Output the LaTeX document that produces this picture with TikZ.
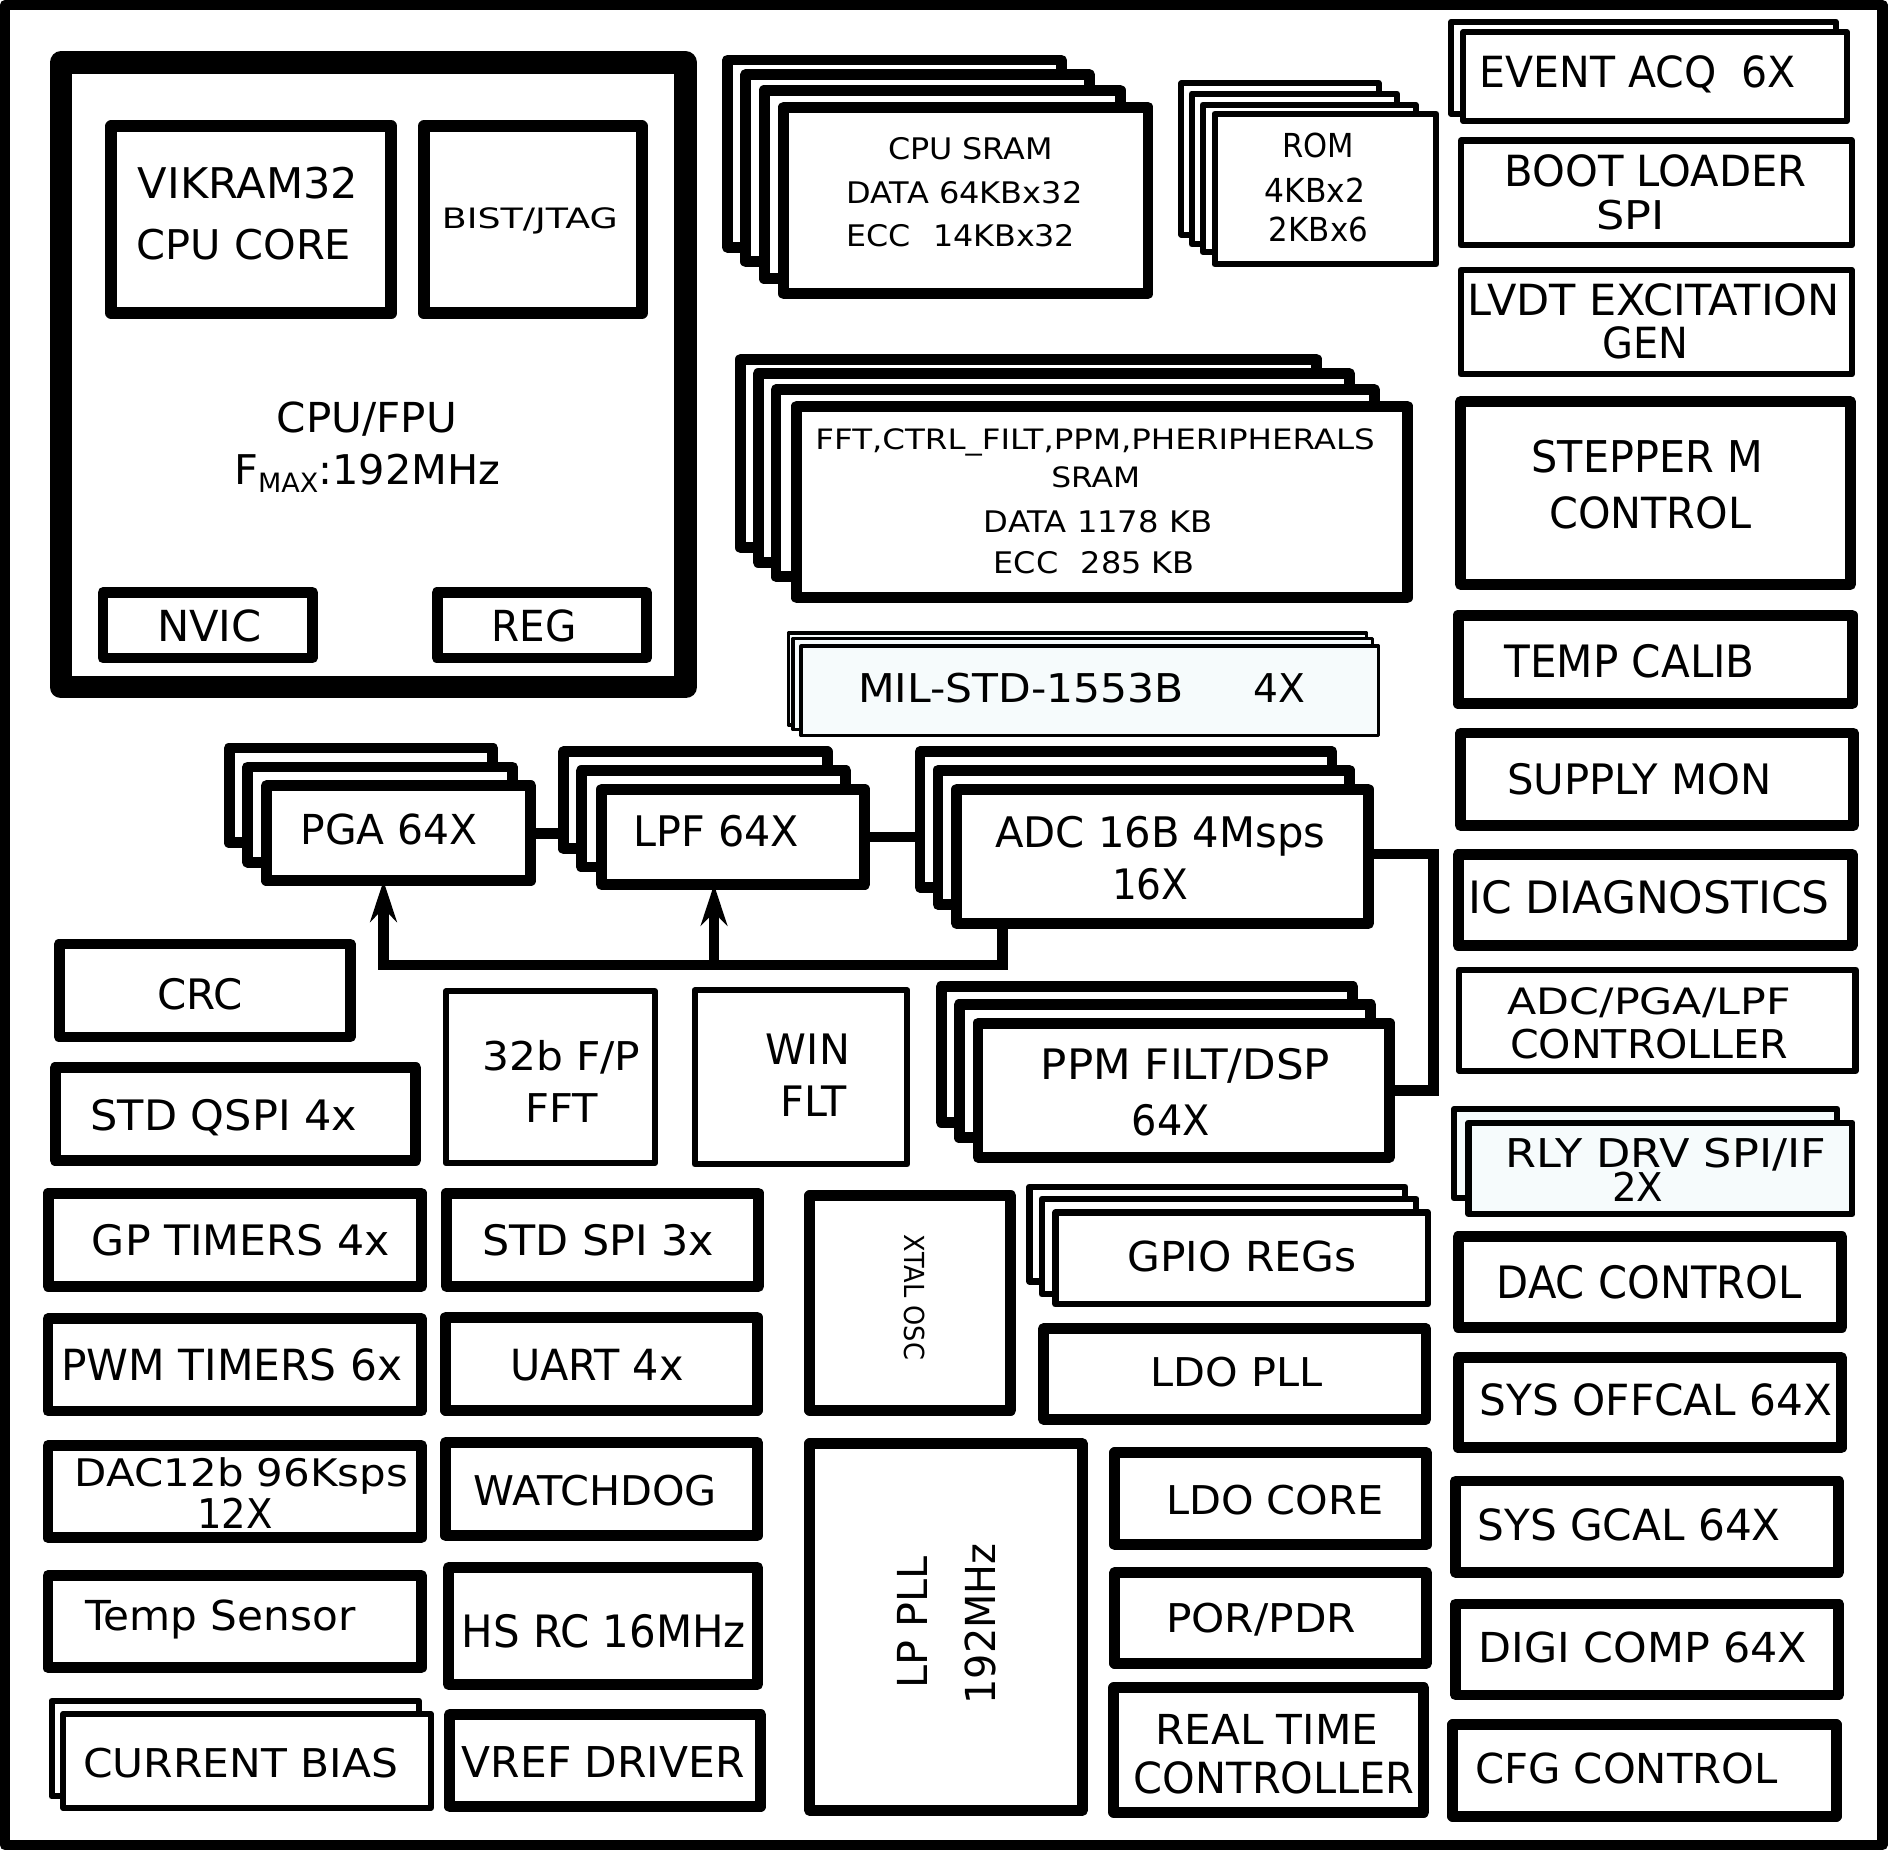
\documentclass[tikz,border=0pt]{standalone}
\usepackage{fontspec}
\setmainfont{DejaVu Sans}
\usepackage{graphicx}
\usetikzlibrary{arrows.meta}
\newdimen\pxu \pxu=0.01cm
\definecolor{ltfill}{RGB}{246,251,252}
\newcommand\tx[3]{\resizebox{#1\pxu}{#2\pxu}{\smash{#3}\vphantom{H}}}
\newcommand\bx[6][]{\node[box,#1,minimum width={(#5-#3)*0.01cm},minimum height={(#6-#4)*0.01cm}] (#2) at ({(#3+#5)/2},{(#4+#6)/2}) {};}
\newcommand\lbl[7][]{\node[tnode,#1] (#2) at (#3,#4) {\tx{#5}{#6}{#7}};}
\tikzset{
  box/.style={draw=black, fill=white, inner sep=0pt, outer sep=0pt, line join=round},
  lwA/.style={line width=0.9mm},
  lwB/.style={line width=0.5mm},
  lwC/.style={line width=0.28mm},
  lwD/.style={line width=1.0mm},
  lwE/.style={line width=1.9mm},
  lite/.style={fill=ltfill},
  tnode/.style={inner sep=0pt, outer sep=0pt},
  conn/.style={draw=black, line width=0.9mm, line join=miter},
  tip/.style={-{Stealth[length=3.4mm,width=2.2mm,inset=1.1mm]}}
}
\begin{document}
\begin{tikzpicture}[x=0.01cm,y=-0.01cm]
\useasboundingbox (0,0) rectangle (1568,1537);
\fill[white] (0,0) rectangle (1568,1537);
% outer frame
\bx[line width=0.85mm,fill=none]{frame}{4}{4.2}{1563.5}{1532.5}

% CPU block
\bx[lwE]{cpu}{50.7}{52.2}{569.5}{570.6}
\bx[lwD]{vik}{92.5}{105}{325}{260}
\bx[lwD]{bist}{352}{105}{533}{260}
\bx[lwA]{nvic}{85.5}{492}{259.5}{546.5}
\bx[lwA]{reg}{363}{492}{537}{546.5}

% CPU SRAM stack
\bx[lwA]{s1}{604.1}{49.9}{881.3}{205.3}
\bx[lwA]{s2}{619.4}{62}{904.8}{217.4}
\bx[lwA]{s3}{634.7}{74.9}{930.3}{231.5}
\bx[lwA]{s4}{650.8}{89}{953.4}{244}
% ROM stack
\bx[lwB]{r1}{981.2}{69.2}{1145}{194.8}
\bx[lwB]{r2}{989.9}{77.7}{1160}{203}
\bx[lwB]{r3}{998.9}{87}{1175.6}{209.3}
\bx[lwB]{r4}{1008.7}{94.6}{1192.9}{219.4}
% FFT SRAM stack
\bx[lwA]{f1}{615.1}{298.3}{1093.4}{455}
\bx[lwA]{f2}{629.6}{310.4}{1120.8}{467}
\bx[lwA]{f3}{644.5}{323.7}{1141.6}{479}
\bx[lwA]{f4}{661.4}{337.4}{1169}{496.4}
% MIL stack
\bx[lwC,lite]{m1}{654.7}{525.8}{1134.9}{602}
\bx[lwC,lite]{m2}{658.6}{530.2}{1140}{606}
\bx[lwC,lite]{m3}{665.3}{536.6}{1145}{611}

% right column
\bx[lwB]{e1}{1205.4}{18.1}{1524.6}{94.6}
\bx[lwB]{e2}{1215.4}{26.6}{1533.8}{100.6}
\bx[lwB]{boot}{1213.2}{116.7}{1538}{203.7}
\bx[lwB]{lvdt}{1213.2}{224.2}{1538}{310.8}
\bx[lwA]{step}{1213}{333.7}{1536.8}{485.5}
\bx[lwA]{tcal}{1211}{510.9}{1538.2}{584.5}
\bx[lwA]{supply}{1213}{608.8}{1539.3}{685.7}
\bx[lwA]{icd}{1211}{709.6}{1538.2}{785.2}
\bx[lwB]{actl}{1212}{805.2}{1541}{889.5}
\bx[lwB,lite]{rl1}{1207.6}{921}{1526}{995.3}
\bx[lwB,lite]{rl2}{1219.6}{932.4}{1538.5}{1008.4}
\bx[lwA]{dacc}{1211}{1027}{1529.6}{1102.5}
\bx[lwA]{soff}{1211}{1127.6}{1529.4}{1202.5}
\bx[lwA]{sgc}{1208.8}{1230}{1527.1}{1305.8}
\bx[lwA]{digi}{1208.8}{1332.1}{1527.1}{1407.7}
\bx[lwA]{cfg}{1206.5}{1432.5}{1525}{1508.4}

% signal chain stacks
\bx[lwA]{p1}{190.3}{621.2}{409.2}{700}
\bx[lwA]{p2}{205.6}{637}{425.6}{716}
\bx[lwA]{p3}{221.2}{652.7}{440.9}{731.5}
\bx[lwA]{l1}{468}{624.4}{686.9}{705}
\bx[lwA]{l2}{482.8}{640}{702.5}{720}
\bx[lwA]{l3}{499.6}{655.5}{718.2}{734.7}
\bx[lwA]{a1}{764.1}{624.4}{1106.3}{737}
\bx[lwA]{a2}{779}{639.6}{1120.8}{751.2}
\bx[lwA]{a3}{794.7}{655.5}{1136.5}{767.1}
\bx[lwA]{pp1}{781.7}{819.2}{1123.5}{932}
\bx[lwA]{pp2}{796.6}{834.2}{1138.4}{945}
\bx[lwA]{pp3}{812.3}{849.7}{1154.1}{961}

% left / middle blocks
\bx[lwA]{crc}{49.2}{784}{291}{861.2}
\bx[lwA]{qspi}{45.8}{886.6}{345.2}{963.9}
\bx[lwB]{ffp}{370.3}{823.4}{543.9}{966}
\bx[lwB]{win}{577}{822.4}{753.5}{967}
\bx[lwA]{gpt}{40}{990.9}{350.1}{1068.4}
\bx[lwA]{spi}{370.7}{990.9}{630}{1068.4}
\bx[lwA]{pwm}{39.8}{1095.2}{350}{1171.9}
\bx[lwA]{uart}{370.3}{1094}{628.8}{1171.3}
\bx[lwA]{dac12}{39.8}{1200.5}{350}{1277.2}
\bx[lwA]{wdog}{370.3}{1197.9}{628.8}{1275.5}
\bx[lwA]{tsens}{39.8}{1308.5}{350}{1385.2}
\bx[lwA]{hsrc}{372.5}{1301.8}{629.2}{1399}
\bx[lwB]{cb1}{42.8}{1412.6}{347.9}{1492}
\bx[lwB]{cb2}{52.5}{1423.4}{357.6}{1501.6}
\bx[lwA]{vref}{373.3}{1424}{631.8}{1500.5}
\bx[lwA]{xtal}{672.6}{993}{839.5}{1171.2}
\bx[lwB]{g1}{855}{985.5}{1167}{1064.3}
\bx[lwB]{g2}{865.2}{995.7}{1176.4}{1075}
\bx[lwB]{g3}{876.6}{1007}{1185.9}{1083.3}
\bx[lwA]{ldopll}{866.6}{1103.6}{1184.3}{1178.6}
\bx[lwA]{lppll}{672.6}{1199}{898.8}{1503.6}
\bx[lwA]{ldocore}{925.9}{1206.5}{1184.7}{1283}
\bx[lwA]{por}{925.9}{1306}{1184.7}{1381.4}
\bx[lwA]{rtc}{925.1}{1401.8}{1182.5}{1505}

% connectors
\coordinate (b1) at (832.3,801.4);
\coordinate (b2) at (318.5,801.4);
\coordinate (b3) at (593,801.4);
\coordinate (rr) at (1190.2,709.3);
\draw[conn] (p3.east) -- (p3.east -| l1.west);
\draw[conn] (l3.east) -- (l3.east -| a1.west);
\draw[conn,tip] (b1 |- a3.south) -- (b1) -- (b2) -- (b2 |- p3.south);
\draw[conn,tip] (b3) -- (b3 |- l3.south);
\draw[conn] (a3.east |- rr) -- (rr) |- (pp3.east);

% texts
\lbl{tvik1}{206}{152}{183}{25.6}{VIKRAM32}
\lbl{tvik2}{202.7}{203}{178}{24.8}{CPU CORE}
\lbl{tbist}{440}{181.5}{146}{17}{BIST/JTAG}
\lbl{tcpu1}{304.8}{347}{149.5}{25}{CPU/FPU}
\lbl{tcpu2}{305}{390}{221}{24.8}{F\raisebox{-1.9pt}{\fontsize{6.5}{7}\selectfont MAX}:192MHz}
\lbl{tnvic}{174}{520.2}{87}{25.9}{NVIC}
\lbl{treg}{443.4}{520.2}{70.6}{25.9}{REG}

\lbl{ts1}{806}{123.6}{137}{18}{CPU SRAM}
\lbl{ts2}{801}{159.8}{196}{18}{DATA 64KBx32}
\lbl{ts3}{798}{196}{190}{18}{ECC\hspace{0.7em}14KBx32}
\lbl{tr1}{1095}{120.8}{59.6}{20}{ROM}
\lbl{tr2}{1092}{157.8}{83.5}{20}{4KBx2}
\lbl{tr3}{1095}{190.8}{82.3}{20}{2KBx6}
\lbl{tf1}{909.5}{365}{464.5}{17}{FFT,CTRL\_FILT,PPM,PHERIPHERALS}
\lbl{tf2}{910}{396.5}{73.7}{17}{SRAM}
\lbl{tf3}{912}{433.6}{190}{18}{DATA 1178 KB}
\lbl{tf4}{908.7}{467}{167}{18}{ECC\hspace{0.7em}285 KB}
\lbl{tm1}{848}{571.7}{270.5}{24}{MIL-STD-1553B}
\lbl{tm2}{1062.8}{571.7}{43}{24}{4X}

\lbl{te}{1360}{60}{262}{26}{EVENT ACQ\hspace{0.6em}6X}
\lbl{tboot1}{1375}{142}{251}{26}{BOOT LOADER}
\lbl{tboot2}{1354.4}{179}{56.8}{24}{SPI}
\lbl{tlvdt1}{1373.6}{249}{309}{26}{LVDT EXCITATION}
\lbl{tlvdt2}{1366.6}{285}{71.4}{26}{GEN}
\lbl{tstep1}{1368}{379}{192}{26.5}{STEPPER M}
\lbl{tstep2}{1370.5}{425.7}{167.7}{26}{CONTROL}
\lbl{ttcal}{1353.4}{549}{208}{27}{TEMP CALIB}
\lbl{tsup}{1361.7}{647.3}{219.5}{25.4}{SUPPLY MON}
\lbl{ticd}{1369.5}{745}{300}{27}{IC DIAGNOSTICS}
\lbl{tact1}{1369.7}{831.6}{235}{22}{ADC/PGA/LPF}
\lbl{tact2}{1369.7}{866.7}{231}{24}{CONTROLLER}
\lbl{trl1}{1383.3}{957.8}{266.6}{24}{RLY DRV SPI/IF}
\lbl{trl2}{1360.2}{986}{42.5}{24}{2X}
\lbl{tdacc}{1369.7}{1064.7}{253}{27}{DAC CONTROL}
\lbl{tsoff}{1375.5}{1162.8}{292.7}{26}{SYS OFFCAL 64X}
\lbl{tsgc}{1353}{1266.4}{252}{26}{SYS GCAL 64X}
\lbl{tdigi}{1364.5}{1368}{273}{25}{DIGI COMP 64X}
\lbl{tcfg}{1350.8}{1468.5}{251.4}{25}{CFG CONTROL}

\lbl{tpga}{323.2}{688.5}{147}{25}{PGA 64X}
\lbl{tlpf}{595}{690.3}{137.4}{25.5}{LPF 64X}
\lbl{tadc1}{963.6}{691}{274.4}{25.5}{ADC 16B 4Msps}
\lbl{tadc2}{955.4}{734.7}{63.5}{25.4}{16X}
\lbl{tppm1}{984.6}{884}{240.3}{25.4}{PPM FILT/DSP}
\lbl{tppm2}{972.4}{930}{64.8}{25.4}{64X}

\lbl{tcrc}{166}{825.3}{71}{25.4}{CRC}
\lbl{tqspi}{186}{926.2}{221.6}{25.4}{STD QSPI 4x}
\lbl{tffp1}{466.2}{877.2}{131.6}{24}{32b F/P}
\lbl{tffp2}{466.8}{920}{60.3}{24}{FFT}
\lbl{twin1}{671}{871.3}{69.7}{25.4}{WIN}
\lbl{twin2}{675.7}{914.3}{55}{25.4}{FLT}
\lbl{tgpt}{199.9}{1030.3}{247}{25.4}{GP TIMERS 4x}
\lbl{tspi}{496.8}{1030}{192.6}{25.4}{STD SPI 3x}
\lbl{tpwm}{192.4}{1133.7}{283}{26}{PWM TIMERS 6x}
\lbl{tuart}{495.8}{1133.4}{144}{26}{UART 4x}
\lbl{tdac1}{200.6}{1223.4}{276.7}{23}{DAC12b 96Ksps}
\lbl{tdac2}{195.3}{1257}{62.7}{24.8}{12X}
\lbl{twdog}{494.3}{1238}{202}{24.8}{WATCHDOG}
\lbl{ttsens}{183}{1342}{224.6}{25}{Temp Sensor}
\lbl{thsrc}{501.5}{1354.8}{236}{27}{HS RC 16MHz}
\lbl{tcb}{199.8}{1464.6}{261.4}{24}{CURRENT BIAS}
\lbl{tvref}{501}{1463}{235}{25.7}{VREF DRIVER}

\lbl[rotate=-90]{txtal}{759.8}{1077.6}{104}{16.7}{XTAL OSC}
\lbl{tgpio}{1031.3}{1043.8}{190}{25}{GPIO REGs}
\lbl{tldopll}{1027}{1139.9}{142.8}{24}{LDO PLL}
\lbl[rotate=90]{tlp1}{758}{1347.8}{109.6}{25}{LP PLL}
\lbl[rotate=90]{tlp2}{814.3}{1348.8}{133.7}{25}{192MHz}
\lbl{tldoc}{1058.8}{1245.7}{180.5}{24}{LDO CORE}
\lbl{tpor}{1047.3}{1344}{157.6}{24}{POR/PDR}
\lbl{trtc1}{1052}{1436.3}{185.4}{25}{REAL TIME}
\lbl{trtc2}{1058.4}{1476.5}{233.2}{26}{CONTROLLER}
\end{tikzpicture}
\end{document}
